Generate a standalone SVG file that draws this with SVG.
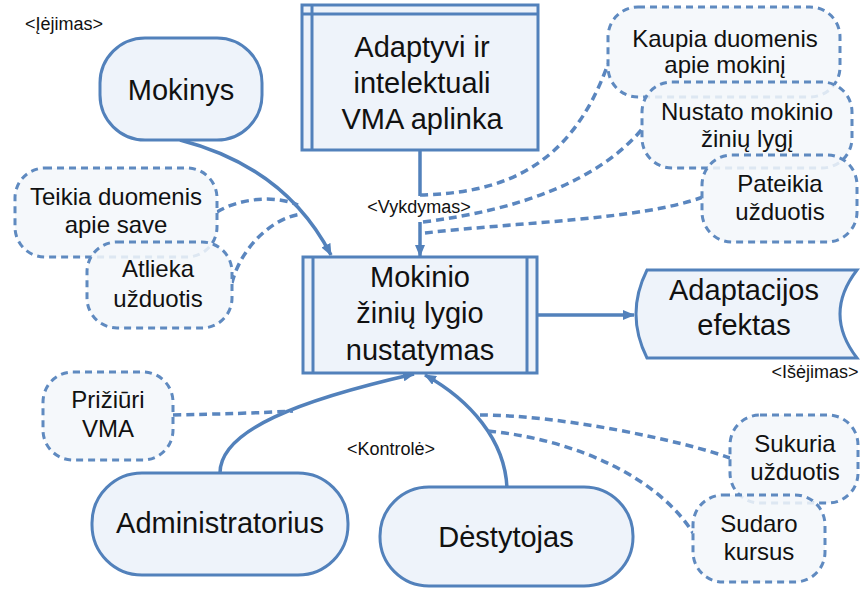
<svg xmlns="http://www.w3.org/2000/svg" width="860" height="589" viewBox="0 0 860 589">
  <defs>
    <marker id="arrow" viewBox="0 0 12 10" refX="11" refY="5" markerWidth="12" markerHeight="10" markerUnits="userSpaceOnUse" orient="auto">
      <path d="M0,0 L12,5 L0,10 z" fill="#5281bb"/>
    </marker>
    <style>
      .solid { fill: #eef3fa; stroke: #5281bb; stroke-width: 3; }
      .inner { fill: none; stroke: #5281bb; stroke-width: 3; }
      .note { fill: #f3f7fa; fill-opacity: 0.85; stroke: #5f8ac0; stroke-width: 3; stroke-dasharray: 7 5; }
      .flow { fill: none; stroke: #5281bb; stroke-width: 3.5; }
      .dash { fill: none; stroke: #5a86bf; stroke-width: 3.5; stroke-dasharray: 8 5; }
      text { font-family: "Liberation Sans", Arial, sans-serif; fill: #111; text-anchor: middle; }
      .big { font-size: 29px; }
      .mid { font-size: 24px; }
      .tag { font-size: 18px; }
    </style>
  </defs>

  <!-- connectors -->
  <g id="connectors">
    <path class="flow" d="M180,140 C250,158 300,195 331,255" marker-end="url(#arrow)"/>
    <path class="flow" d="M420,150 L420,196"/>
    <path class="flow" d="M420,222 L420,256" marker-end="url(#arrow)"/>
    <path class="flow" d="M537,315 L634,315" marker-end="url(#arrow)"/>
    <path class="flow" d="M220,473 C220,430 300,400 414,374" marker-end="url(#arrow)"/>
    <path class="flow" d="M507,488 C505,440 470,400 425,375" marker-end="url(#arrow)"/>

    <path class="dash" d="M217,212 C240,198 275,195 298,205"/>
    <path class="dash" d="M232,283 C240,250 270,218 302,214"/>
    <path class="dash" d="M420,195 C500,193 570,170 608,64"/>
    <path class="dash" d="M423,222 C520,210 600,180 643,128"/>
    <path class="dash" d="M425,233 C520,222 640,220 703,197"/>
    <path class="dash" d="M173,415 C220,414 260,413 293,411"/>
    <path class="dash" d="M480,415 C560,415 680,440 730,458"/>
    <path class="dash" d="M488,431 C580,440 660,480 693,533"/>
  </g>

  <!-- flow labels -->
  <g id="labels">
    <text class="tag" x="64" y="30">&lt;Įėjimas&gt;</text>
    <text class="tag" x="419" y="213">&lt;Vykdymas&gt;</text>
    <text class="tag" x="391" y="455">&lt;Kontrolė&gt;</text>
    <text class="tag" x="815" y="378">&lt;Išėjimas&gt;</text>
  </g>

  <g id="mokinys">
    <rect class="solid" x="100" y="38" width="162" height="102" rx="45"/>
    <text class="big" x="181" y="100">Mokinys</text>
  </g>

  <g id="aplinka">
    <rect class="solid" x="302" y="5" width="236" height="145"/>
    <path class="inner" d="M312,5 V150 M302,14 H538"/>
    <text class="big" x="422" y="57">Adaptyvi ir</text>
    <text class="big" x="422" y="93">intelektuali</text>
    <text class="big" x="422" y="129">VMA aplinka</text>
  </g>

  <g id="nustatymas">
    <rect class="solid" x="303" y="257" width="234" height="116"/>
    <path class="inner" d="M313,257 V373 M527,257 V373"/>
    <text class="big" x="420" y="287">Mokinio</text>
    <text class="big" x="420" y="323">žinių lygio</text>
    <text class="big" x="420" y="360">nustatymas</text>
  </g>

  <g id="efektas">
    <path class="solid" d="M647,270 L857,270 Q823,314 857,358 L647,358 Q625,314 647,270 Z"/>
    <text class="big" x="744" y="300">Adaptacijos</text>
    <text class="big" x="744" y="335">efektas</text>
  </g>

  <g id="administratorius">
    <rect class="solid" x="92" y="473" width="256" height="102" rx="50"/>
    <text class="big" x="220" y="533">Administratorius</text>
  </g>

  <g id="destytojas">
    <rect class="solid" x="380" y="487" width="253" height="99" rx="49"/>
    <text class="big" x="506" y="547">Dėstytojas</text>
  </g>

  <g id="teikia">
    <rect class="note" x="15" y="168" width="202" height="89" rx="30"/>
    <text class="mid" x="116" y="205">Teikia duomenis</text>
    <text class="mid" x="116" y="233">apie save</text>
  </g>

  <g id="atlieka">
    <rect class="note" x="87" y="242" width="145" height="86" rx="30"/>
    <text class="mid" x="158" y="277">Atlieka</text>
    <text class="mid" x="158" y="307">užduotis</text>
  </g>

  <g id="kaupia">
    <rect class="note" x="608" y="7" width="232" height="90" rx="30"/>
    <text class="mid" x="725" y="47">Kaupia duomenis</text>
    <text class="mid" x="725" y="73">apie mokinį</text>
  </g>

  <g id="nustato">
    <rect class="note" x="642" y="82" width="210" height="86" rx="30"/>
    <text class="mid" x="747" y="120">Nustato mokinio</text>
    <text class="mid" x="747" y="147">žinių lygį</text>
  </g>

  <g id="pateikia">
    <rect class="note" x="702" y="155" width="155" height="87" rx="30"/>
    <text class="mid" x="780" y="192">Pateikia</text>
    <text class="mid" x="780" y="220">užduotis</text>
  </g>

  <g id="priziuri">
    <rect class="note" x="43" y="372" width="130" height="88" rx="30"/>
    <text class="mid" x="108" y="408">Prižiūri</text>
    <text class="mid" x="108" y="437">VMA</text>
  </g>

  <g id="sukuria">
    <rect class="note" x="730" y="415" width="128" height="88" rx="30"/>
    <text class="mid" x="795" y="452">Sukuria</text>
    <text class="mid" x="795" y="480">užduotis</text>
  </g>

  <g id="sudaro">
    <rect class="note" x="693" y="495" width="132" height="87" rx="30"/>
    <text class="mid" x="759" y="532">Sudaro</text>
    <text class="mid" x="759" y="560">kursus</text>
  </g>
</svg>
